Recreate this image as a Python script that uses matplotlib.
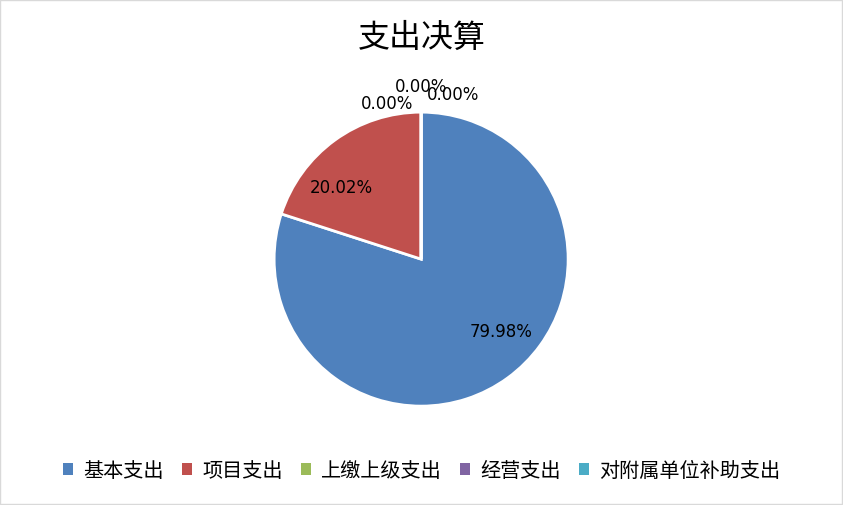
import matplotlib
matplotlib.use("Agg")
import matplotlib.pyplot as plt
from matplotlib.patches import Patch
import numpy as np

plt.rcParams['font.family'] = ['Noto Sans CJK SC', 'DejaVu Sans']

categories = ['基本支出', '项目支出', '上缴上级支出', '经营支出', '对附属单位补助支出']
values = [79.98, 20.02, 0.00, 0.00, 0.00]
colors = ['#4F81BD', '#C0504D', '#9BBB59', '#8064A2', '#4BACC6']
title = '支出决算'

fig = plt.figure(figsize=(8.43, 5.06), dpi=100)
ax = fig.add_axes([0.0, 0.0, 1.0, 1.0])

wedges, _ = ax.pie(values, colors=colors, startangle=90, counterclock=False,
                   radius=1.0, center=(0, 0),
                   wedgeprops=dict(edgecolor='white', linewidth=2))
ax.set_xlim(-2.865, 2.87)
ax.set_ylim(-1.668, 1.765)
ax.set_aspect('equal')
ax.axis('off')

# label placement (angle deg, radius) per slice (Excel best-fit style)
label_pos = [(-42.0, 0.735), (137.7, 0.73), None, None, None]
zero_offsets = [(-0.23, 1.065), (0.0, 1.18), (0.215, 1.125)]
zi = 0
for v, pos in zip(values, label_pos):
    txt = f'{v:.2f}%'
    if pos is not None:
        a = np.deg2rad(pos[0])
        x, y = pos[1] * np.cos(a), pos[1] * np.sin(a)
    else:
        x, y = zero_offsets[zi]
        zi += 1
    ax.text(x, y, txt, ha='center', va='center', fontsize=12,
            family=['DejaVu Sans'], color='black')

fig.text(0.5, 0.925, title, ha='center', va='center', fontsize=23, color='black')

handles = [Patch(facecolor=c, edgecolor='none') for c in colors]
fig.legend(handles, categories, loc='center', bbox_to_anchor=(0.5, 0.068),
           ncol=5, frameon=False, fontsize=14.5, handlelength=0.5, handleheight=0.5,
           handletextpad=0.5, columnspacing=0.9)

fig.patches.append(plt.Rectangle((0.0005, 0.001), 0.998, 0.997, transform=fig.transFigure,
                                 fill=False, edgecolor='#D9D9D9', linewidth=1))
fig.savefig('out.png', dpi=100, facecolor='white')
